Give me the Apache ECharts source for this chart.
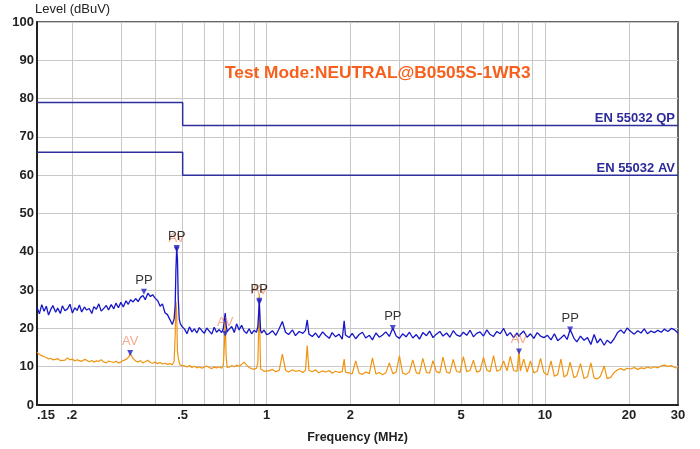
<!DOCTYPE html>
<html>
<head>
<meta charset="utf-8">
<script src="https://cdn.jsdelivr.net/npm/echarts@6/dist/echarts.min.js"></script>
<style>
html,body{margin:0;padding:0;background:#fff;}
#chart{width:700px;height:449px;}
</style>
</head>
<body>
<div id="chart"></div>
<script>
// Frequencies (MHz)
const freqs = [
0.150,0.153,0.156,0.159,0.162,0.165,0.168,0.171,0.175,0.178,0.182,0.185,0.189,0.193,0.197,0.201,0.205,0.209,0.213,0.217,
0.222,0.226,0.231,0.236,0.240,0.245,0.250,0.255,0.261,0.266,0.271,0.277,0.283,0.288,0.294,
0.300,0.306,0.313,0.319,0.325,0.332,0.339,0.346,0.353,0.360,0.367,0.375,0.383,0.390,0.398,
0.407,0.415,0.423,0.432,0.441,0.450,0.459,0.466,
0.470,0.473,0.476,0.479,0.482,0.486,0.490,0.497,
0.508,0.518,0.529,0.540,0.551,0.562,0.574,0.586,0.598,0.610,0.623,0.636,0.649,0.662,0.676,0.690,
0.700,0.706,0.711,0.716,0.722,
0.735,0.750,0.766,0.781,0.797,0.814,0.831,0.848,0.866,0.884,0.902,0.920,
0.931,0.937,0.942,0.947,0.952,0.960,0.980,
1.00,
1.02,1.05,1.08,1.11,1.14,1.17,1.20,1.24,1.27,1.31,1.35,1.38,
1.40,1.42,
1.46,1.50,1.54,1.59,1.63,1.68,1.72,1.77,1.82,1.87,
1.90,1.92,
1.98,2.03,2.09,2.15,2.21,2.27,2.34,2.40,2.47,2.54,2.61,2.68,2.76,2.84,2.92,3.00,3.08,3.17,3.26,3.35,
3.45,3.54,3.64,3.75,3.85,3.96,4.07,4.19,4.30,4.43,4.55,4.68,4.81,4.95,5.09,5.23,5.38,5.53,5.68,5.84,
6.01,6.18,6.35,6.53,6.71,6.90,7.10,7.30,7.50,7.71,7.93,
8.06,8.15,8.38,8.62,8.86,9.11,9.37,9.63,9.90,
10.2,10.5,10.8,11.1,11.4,11.7,12.0,12.3,12.7,13.0,13.4,13.8,14.2,14.6,15.0,15.4,15.8,16.3,16.7,17.2,
17.7,18.2,18.7,19.2,19.7,20.3,20.9,21.5,22.1,22.7,23.3,24.0,24.7,25.4,26.1,26.8,27.6,28.4,29.2,30.0
];

// Peak trace (dBuV)
const peakLevels = [
25.5,23.8,26.2,24.5,25.8,23.5,24.9,26.0,24.2,25.3,23.9,25.9,24.6,25.1,26.3,24.0,25.4,24.7,26.1,24.3,
25.6,24.8,25.2,23.9,25.7,25.0,26.4,24.5,25.3,26.0,24.8,26.2,25.1,26.6,25.4,
26.8,25.6,27.2,26.3,27.5,26.9,27.8,27.0,28.1,28.6,27.5,29.2,28.3,28.8,27.9,
27.2,25.8,26.4,24.1,23.6,22.3,21.0,22.5,
26.0,35.5,41.0,38.0,28.0,22.5,21.3,20.5,
19.8,18.6,20.4,19.1,19.9,18.8,20.2,19.4,18.7,20.1,19.3,18.5,20.3,19.0,19.7,18.9,
20.0,22.5,24.0,21.0,19.2,
19.8,20.5,18.9,21.2,19.6,20.8,19.3,18.7,19.9,18.6,19.5,19.0,
20.5,24.0,27.2,23.0,19.5,18.8,19.6,
18.4,
18.6,19.4,18.2,19.9,21.8,19.0,18.4,19.6,18.1,19.2,18.7,19.5,
22.2,18.5,
17.9,18.8,17.6,19.1,18.2,17.4,18.9,17.8,18.5,17.2,
22.0,18.3,
17.6,18.7,17.3,18.4,19.0,17.5,18.2,17.0,18.8,17.7,18.3,19.1,17.9,20.1,18.0,17.4,18.6,17.8,19.0,17.5,
18.4,17.2,18.9,18.1,19.3,17.6,18.5,19.2,18.0,18.8,17.7,19.4,18.3,17.9,19.0,18.2,19.5,17.8,18.7,19.1,
18.0,19.6,18.4,17.9,19.2,18.6,20.0,18.1,18.9,17.6,18.8,
17.9,18.5,19.3,17.7,18.6,17.4,18.9,18.0,17.6,
18.2,17.0,18.6,16.8,17.5,18.3,17.1,19.7,17.4,16.5,18.0,16.9,17.6,15.8,18.4,16.2,17.3,15.6,16.9,16.1,
17.3,18.9,19.6,18.7,20.1,19.2,18.5,19.4,18.8,19.9,18.6,19.3,18.9,19.5,19.0,19.8,19.2,20.0,19.6,18.8
];

// Average trace (dBuV)
const avgLevels = [
13.8,13.2,12.9,12.6,12.4,12.0,12.2,11.8,11.9,12.1,11.6,11.9,11.7,12.3,11.8,12.0,11.5,11.8,11.6,11.4,
11.9,11.7,11.3,11.6,11.2,11.5,11.4,11.8,11.2,11.0,11.5,11.3,11.1,11.4,11.0,
11.2,11.6,11.9,12.4,13.4,12.1,11.5,11.2,11.6,11.0,11.3,11.7,11.1,10.9,11.2,
10.8,11.1,10.7,10.9,10.6,10.8,10.5,11.5,
18.0,27.0,24.0,14.0,12.5,11.0,10.4,10.1,
10.2,9.9,10.3,9.8,10.1,9.7,10.0,9.6,9.9,10.2,9.8,9.5,9.9,9.7,10.0,9.6,
10.5,16.0,22.0,13.0,9.8,
9.9,10.3,10.0,10.4,10.1,10.6,11.2,10.4,9.8,9.5,9.3,9.6,
11.0,20.0,29.0,18.0,9.5,9.0,8.8,
8.9,
8.9,9.3,8.7,9.0,13.3,9.1,8.6,9.2,8.8,9.0,8.5,9.1,
15.5,9.0,
8.7,9.2,8.4,8.9,8.6,9.0,8.3,8.8,8.5,8.7,
12.0,8.6,
8.4,8.1,11.5,8.3,8.0,8.6,8.2,12.3,8.1,8.5,7.9,8.4,11.0,8.2,8.6,12.8,8.3,8.0,8.7,11.8,
8.4,8.2,12.2,8.5,8.3,11.6,8.7,8.4,12.5,8.6,8.3,11.9,8.8,8.5,12.6,8.7,9.0,11.7,8.6,8.9,
12.4,9.1,8.7,12.9,8.8,9.2,11.5,8.9,12.7,9.0,8.8,
14.2,8.9,12.0,8.6,11.5,8.4,8.8,12.2,8.5,
7.8,11.5,7.5,8.0,12.0,7.3,7.9,11.2,7.1,7.6,10.8,6.9,7.4,11.0,7.0,6.8,7.5,10.2,6.9,7.2,
8.5,9.2,9.5,9.1,9.6,9.4,9.8,9.3,9.7,9.5,9.9,9.6,10.0,9.7,10.2,10.4,10.1,10.3,9.8,9.6
];

// Limit lines
const qpLimitFreqs = [0.15, 0.5, 0.5, 30];
const qpLimitLevels = [79, 79, 73, 73];
const avLimitFreqs = [0.15, 0.5, 0.5, 30];
const avLimitLevels = [66, 66, 60, 60];
const qpLimitName = 'EN 55032 QP';
const avLimitName = 'EN 55032 AV';

// Markers
const ppMarkFreqs = [0.363, 0.476, 0.942, 2.84, 12.3];
const ppMarkLevels = [29.6, 41.0, 27.2, 20.1, 19.7];
const avMarkFreqs = [0.324, 0.476, 0.711, 0.942, 8.06];
const avMarkLevels = [13.6, 40.6, 18.6, 26.8, 14.0];

// Axis ticks
const gridFreqs = [0.2,0.3,0.4,0.5,0.6,0.7,0.8,0.9,1,2,3,4,5,6,7,8,9,10,20];
const labelFreqs = [0.15,0.2,0.5,1,2,5,10,20,30];

const zip = (xs, ys) => xs.map((x, i) => [x, ys[i]]);

const chart = echarts.init(document.getElementById('chart'), null, {renderer: 'canvas'});
const FONT = '"Liberation Sans", Arial, sans-serif';

const limitSeries = (name, xs, ys) => ({
  type: 'line', name: name, data: zip(xs, ys),
  showSymbol: false, symbol: 'none', lineStyle: {color: '#2e2e9e', width: 1.5}, silent: true, z: 3,
  markPoint: {
    silent: true, symbol: 'rect', symbolSize: 1,
    itemStyle: {color: 'rgba(0,0,0,0)'},
    label: {
      show: true, formatter: name, position: 'top', align: 'right', offset: [-3, 0], distance: 0,
      fontFamily: FONT, fontSize: 13, fontWeight: 'bold', color: '#2a2a9a'
    },
    data: [{coord: [xs[xs.length - 1], ys[ys.length - 1]], value: ys[ys.length - 1]}]
  }
});

chart.setOption({
  animation: false,
  backgroundColor: '#ffffff',
  title: {
    text: 'Test Mode:NEUTRAL@B0505S-1WR3',
    left: 225, top: 65, padding: 0,
    textStyle: {color: '#f7601c', fontSize: 17.3, fontWeight: 'bold', fontFamily: FONT}
  },
  grid: {left: 37, right: 22, top: 22, bottom: 37, show: true, borderColor: '#333', borderWidth: 1.5, containLabel: false},
  xAxis: {
    type: 'log', logBase: 10, min: 0.15, max: 30,
    name: 'Frequency (MHz)', nameLocation: 'middle', nameGap: 26,
    nameTextStyle: {fontFamily: FONT, fontSize: 12.5, fontWeight: 'bold', color: '#222'},
    axisLine: {show: true, lineStyle: {color: '#222', width: 2}},
    axisTick: {show: false, customValues: gridFreqs},
    axisLabel: {
      customValues: labelFreqs, margin: 4, alignMinLabel: 'left',
      fontFamily: FONT, fontSize: 13, fontWeight: 'bold', color: '#222',
      formatter: v => { const r = Math.round(v * 100) / 100; return r < 1 ? String(r).replace(/^0/, '') : String(r); }
    },
    splitLine: {show: true, lineStyle: {color: '#c8c8c8', width: 1}}
  },
  yAxis: {
    type: 'value', min: 0, max: 100, interval: 10,
    name: 'Level (dBuV)', nameLocation: 'end', nameGap: 3,
    nameTextStyle: {fontFamily: FONT, fontSize: 13, color: '#222', align: 'left', verticalAlign: 'bottom', padding: [0, 0, 0, -2]},
    axisLine: {show: true, lineStyle: {color: '#222', width: 2}},
    axisTick: {show: false},
    axisLabel: {margin: 3, fontFamily: FONT, fontSize: 13, fontWeight: 'bold', color: '#222'},
    splitLine: {show: true, lineStyle: {color: '#c8c8c8', width: 1}}
  },
  series: [
    limitSeries(qpLimitName, qpLimitFreqs, qpLimitLevels),
    limitSeries(avLimitName, avLimitFreqs, avLimitLevels),
    {
      type: 'line', name: 'Average', data: zip(freqs, avgLevels),
      showSymbol: false, symbol: 'none',
      lineStyle: {color: '#f0940f', width: 1.2}, z: 4
    },
    {
      type: 'line', name: 'Peak', data: zip(freqs, peakLevels),
      showSymbol: false, symbol: 'none',
      lineStyle: {color: '#1616c8', width: 1.3}, z: 5
    },
    {
      type: 'scatter', name: 'PP', data: zip(ppMarkFreqs, ppMarkLevels),
      symbol: 'triangle', symbolRotate: 180, symbolSize: 6,
      itemStyle: {color: '#2020c0'},
      label: {show: true, formatter: 'PP', position: 'top', distance: 2, fontFamily: FONT, fontSize: 13, color: '#000'},
      z: 7
    },
    {
      type: 'scatter', name: 'AV', data: zip(avMarkFreqs, avMarkLevels),
      symbol: 'triangle', symbolRotate: 180, symbolSize: 6,
      itemStyle: {color: '#2020c0'},
      label: {show: true, formatter: 'AV', position: 'top', distance: 2, fontFamily: FONT, fontSize: 13, color: 'rgba(240,120,80,0.8)'},
      z: 6
    }
  ]
});
</script>
</body>
</html>
